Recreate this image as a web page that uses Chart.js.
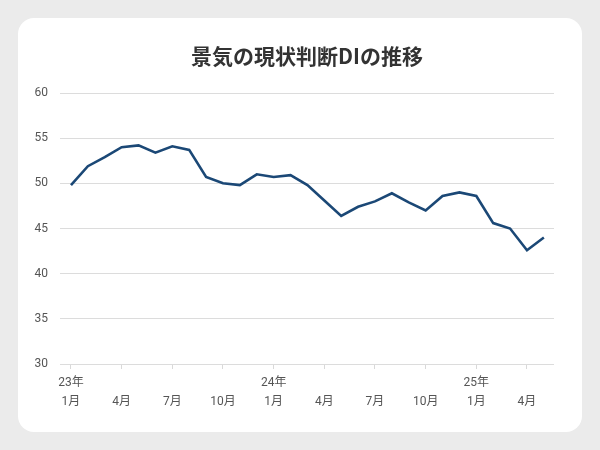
<!DOCTYPE html>
<html lang="ja">
<head>
    <meta charset="UTF-8">
    <title>景気の現状判断DIの推移</title>
    <script src="https://cdn.jsdelivr.net/npm/chart.js@4.4.1/dist/chart.umd.min.js"></script>
</head>
<style>
    body {
        margin: 0;
        background-color: #ebebeb;
        font-family: Roboto, 'Noto Sans CJK JP', sans-serif;
    }

    .card {
        position: absolute;
        left: 18px;
        top: 18px;
        width: 564px;
        height: 414px;
        background-color: #ffffff;
        border-radius: 16px;
        overflow: hidden;
    }

    /* centred over the plot area, like the original */
    .title {
        position: absolute;
        left: 42px;
        top: 24px;
        width: 494px;
        margin: 0;
        font-family: 'Noto Sans CJK JP', sans-serif;
        font-size: 21px;
        font-weight: bold;
        line-height: 26px;
        color: #333333;
        text-align: center;
    }

    canvas {
        position: absolute;
        left: 0;
        top: 0;
    }
</style>
<body>
    <div class="card">
        <canvas id="diChart" width="564" height="414"></canvas>
        <h1 class="title">景気の現状判断DIの推移</h1>
    </div>

    <script>
        // 2023年1月〜2025年5月 (月次)
        const months = [
            '23年1月', '23年2月', '23年3月', '23年4月', '23年5月', '23年6月',
            '23年7月', '23年8月', '23年9月', '23年10月', '23年11月', '23年12月',
            '24年1月', '24年2月', '24年3月', '24年4月', '24年5月', '24年6月',
            '24年7月', '24年8月', '24年9月', '24年10月', '24年11月', '24年12月',
            '25年1月', '25年2月', '25年3月', '25年4月', '25年5月'
        ];
        const diValues = [
            49.8, 51.9, 52.9, 54.0, 54.2, 53.4, 54.1, 53.7, 50.7, 50.0,
            49.8, 51.0, 50.7, 50.9, 49.8, 48.1, 46.4, 47.4, 48.0, 48.9,
            47.9, 47.0, 48.6, 49.0, 48.6, 45.6, 45.0, 42.6, 44.0
        ];
        // tick every 3 months
        const tickIndexes = [0, 3, 6, 9, 12, 15, 18, 21, 24, 27];
        const tickYears = ['23年', '', '', '', '24年', '', '', '', '25年', ''];
        const tickMonths = ['1月', '4月', '7月', '10月', '1月', '4月', '7月', '10月', '1月', '4月'];

        const labelFont = { family: "Roboto, 'Noto Sans CJK JP', sans-serif", size: 12 };

        const ctx = document.getElementById('diChart').getContext('2d');
        new Chart(ctx, {
            type: 'line',
            data: {
                datasets: [{
                    label: '現状判断DI',
                    data: diValues.map((v, i) => ({ x: i, y: v })),
                    borderColor: '#1b4876',
                    borderWidth: 2.6,
                    pointRadius: 0,
                    tension: 0,
                    fill: false
                }]
            },
            options: {
                responsive: false,
                animation: false,
                layout: {
                    padding: { left: 0, right: 28, top: 75, bottom: 21 }
                },
                scales: {
                    x: {
                        type: 'linear',
                        min: -0.65,
                        max: 28.6,
                        afterBuildTicks: function(scale) {
                            scale.ticks = tickIndexes.map(v => ({ value: v }));
                        },
                        afterFit: function(scale) {
                            scale.height = 47;
                        },
                        ticks: {
                            autoSkip: false,
                            maxRotation: 0,
                            padding: 4,
                            color: '#555555',
                            font: { family: labelFont.family, size: 12, lineHeight: 1.6 },
                            callback: function(value) {
                                const k = tickIndexes.indexOf(value);
                                if (k < 0) return null;
                                return [tickYears[k], tickMonths[k]];
                            }
                        },
                        grid: {
                            drawOnChartArea: false,
                            drawTicks: true,
                            tickLength: 5,
                            color: '#d9d9d9'
                        },
                        border: { display: false }
                    },
                    y: {
                        min: 30,
                        max: 60,
                        afterFit: function(scale) {
                            scale.width = 42;
                        },
                        ticks: {
                            stepSize: 5,
                            padding: 12,
                            color: '#555555',
                            font: labelFont
                        },
                        grid: {
                            color: '#dcdcdc',
                            drawTicks: false
                        },
                        border: { display: false }
                    }
                },
                plugins: {
                    legend: { display: false },
                    tooltip: { enabled: false },
                    title: { display: false }
                }
            }
        });
    </script>
</body>
</html>
